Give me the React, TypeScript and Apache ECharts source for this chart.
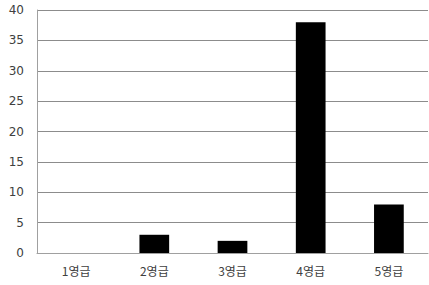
import React, { useEffect, useRef } from "react";
import * as echarts from "echarts";

const categories = ["1영급", "2영급", "3영급", "4영급", "5영급"];
const values = [0, 3, 2, 38, 8];
const yMin = 0;
const yMax = 40;
const yInterval = 5;

export default function App() {
  const ref = useRef<HTMLDivElement>(null);
  useEffect(() => {
    if (!ref.current) return;
    const chart = echarts.init(ref.current, undefined, { renderer: "svg" });
    chart.setOption({
      animation: false,
      backgroundColor: "#ffffff",
      grid: { left: 37, right: 1, top: 10, bottom: 32, containLabel: false },
      xAxis: {
        type: "category",
        data: categories,
        axisLine: { show: true, lineStyle: { color: "#a0a0a0", width: 1 } },
        axisTick: { show: false },
        axisLabel: {
          color: "#404040",
          fontSize: 12,
          fontFamily: "Noto Sans CJK KR",
          margin: 11,
        },
      },
      yAxis: {
        type: "value",
        min: yMin,
        max: yMax,
        interval: yInterval,
        axisLine: { show: true, lineStyle: { color: "#a0a0a0", width: 1 } },
        axisTick: { show: false },
        splitLine: { show: true, lineStyle: { color: "#8c8c8c", width: 1 } },
        axisLabel: {
          color: "#404040",
          fontSize: 12,
          fontFamily: "DejaVu Sans",
          margin: 13,
        },
      },
      series: [
        {
          type: "bar",
          data: values,
          barWidth: "38%",
          itemStyle: { color: "#000000" },
        },
      ],
    });
    return () => chart.dispose();
  }, []);
  return (
    <div
      ref={ref}
      style={{ width: 429, height: 285, position: "absolute", left: 0, top: 0 }}
    />
  );
}
